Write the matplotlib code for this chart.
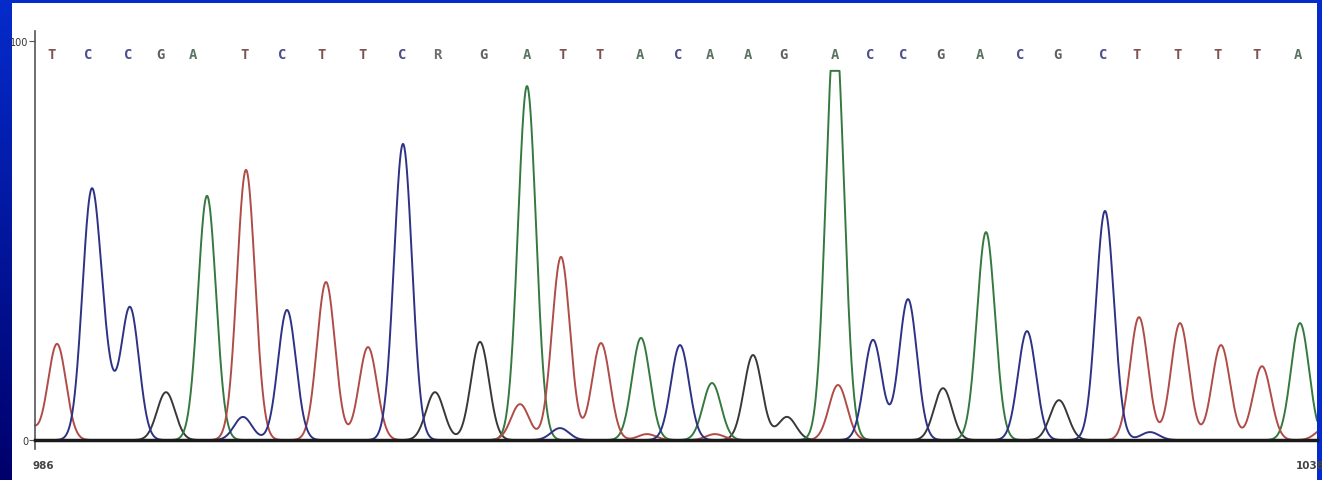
import numpy as np
import matplotlib.pyplot as plt

# called bases along the top
bases = list("TCCGATCTTCRGATTACAAGACCGACGCTTTTA")
base_x = [17, 53, 93, 125, 158, 210, 247, 287, 328, 367, 402, 448, 492, 528, 565,
          605, 643, 675, 713, 748, 800, 835, 868, 905, 945, 985, 1022, 1068, 1102,
          1143, 1183, 1222, 1263]

# peak positions (scan) and heights (%) per dye
red_x = [-12, 22, 211, 291, 333, 485, 526, 566, 612, 680, 803, 1104, 1145, 1186, 1227, 1290]
red_h = [6.0, 24.1, 67.7, 39.6, 23.3, 9.0, 45.9, 24.3, 1.5, 1.5, 13.8, 30.8, 29.3, 23.8, 18.5, 3.0]

blue_x = [56, 70, 95, 208, 252, 368, 525, 645, 838, 873, 992, 1070, 1115]
blue_h = [58.6, 13.8, 33.1, 5.8, 32.6, 74.2, 3.0, 23.8, 25.1, 35.3, 27.3, 57.4, 2.0]

green_x = [172, 492, 606, 677, 800, 951, 1265]
green_h = [61.2, 88.7, 25.6, 14.3, 105.0, 52.1, 29.3]

black_x = [131, 400, 445, 718, 752, 908, 1024]
black_h = [12.0, 12.0, 24.6, 21.3, 5.8, 13.0, 10.0]

x_labels = ["986", "1038"]
x_label_pos = [8, 1275]

clip_level = 92.5
width = 9.0


def trace(x, pos, hts):
    y = np.zeros_like(x)
    for p, h in zip(pos, hts):
        y += h * np.exp(-(x - p) ** 2 / (2 * width ** 2))
    return np.minimum(y, clip_level)


fig = plt.figure(figsize=(13.22, 4.81), dpi=100)

# blue gradient backdrop
bg = fig.add_axes([0, 0, 1, 1])
yy, xx = np.mgrid[0:1:200j, 0:1:400j]
t = yy * (1 - xx) ** 3
top = np.array([0.02, 0.17, 0.80])
bottom = np.array([0.0, 0.0, 0.42])
img = top * (1 - t[..., None]) + bottom * t[..., None]
bg.imshow(img, aspect="auto", extent=[0, 1, 0, 1], origin="upper")
bg.axis("off")

ax = fig.add_axes([12 / 1322, 0, (1317 - 12) / 1322, (481 - 4) / 481])
ax.set_facecolor("white")
ax.set_xlim(-23, 1282)
ax.set_ylim(-10.0, 109.5)

x = np.linspace(0, 1282, 3000)
ax.plot(x, trace(x, black_x, black_h), color="#383838", lw=1.4)
ax.plot(x, trace(x, green_x, green_h), color="#35793f", lw=1.4)
ax.plot(x, trace(x, red_x, red_h), color="#b04c47", lw=1.4)
ax.plot(x, trace(x, blue_x, blue_h), color="#2e3285", lw=1.4)

colors = {"A": "#3d5c45", "C": "#2c2f7a", "G": "#444444", "T": "#6b3434", "R": "#555555"}
for b, bx in zip(bases, base_x):
    ax.text(bx, 96.7, b, ha="center", va="center", fontsize=10, fontweight="bold",
            family="DejaVu Sans Mono", color=colors[b], alpha=0.85)

for s in ["top", "right"]:
    ax.spines[s].set_visible(False)
ax.spines["left"].set_position(("data", 0))
ax.spines["left"].set_bounds(-2.3, 102.5)
ax.spines["left"].set_color("#555555")
ax.spines["left"].set_linewidth(1.2)
ax.spines["bottom"].set_position(("data", 0))
ax.spines["bottom"].set_bounds(0, 1282)
ax.spines["bottom"].set_color("#1a1a1a")
ax.spines["bottom"].set_linewidth(2.5)

ax.set_yticks([0, 100])
ax.set_yticklabels(["0", "100"], fontsize=7, color="#333333")
ax.tick_params(axis="y", length=4, pad=1, color="#555555")
ax.set_xticks(x_label_pos)
ax.set_xticklabels(x_labels, fontsize=7.5, color="#444444", fontweight="bold")
ax.tick_params(axis="x", length=0, pad=14)

fig.savefig("out.png", dpi=100)
